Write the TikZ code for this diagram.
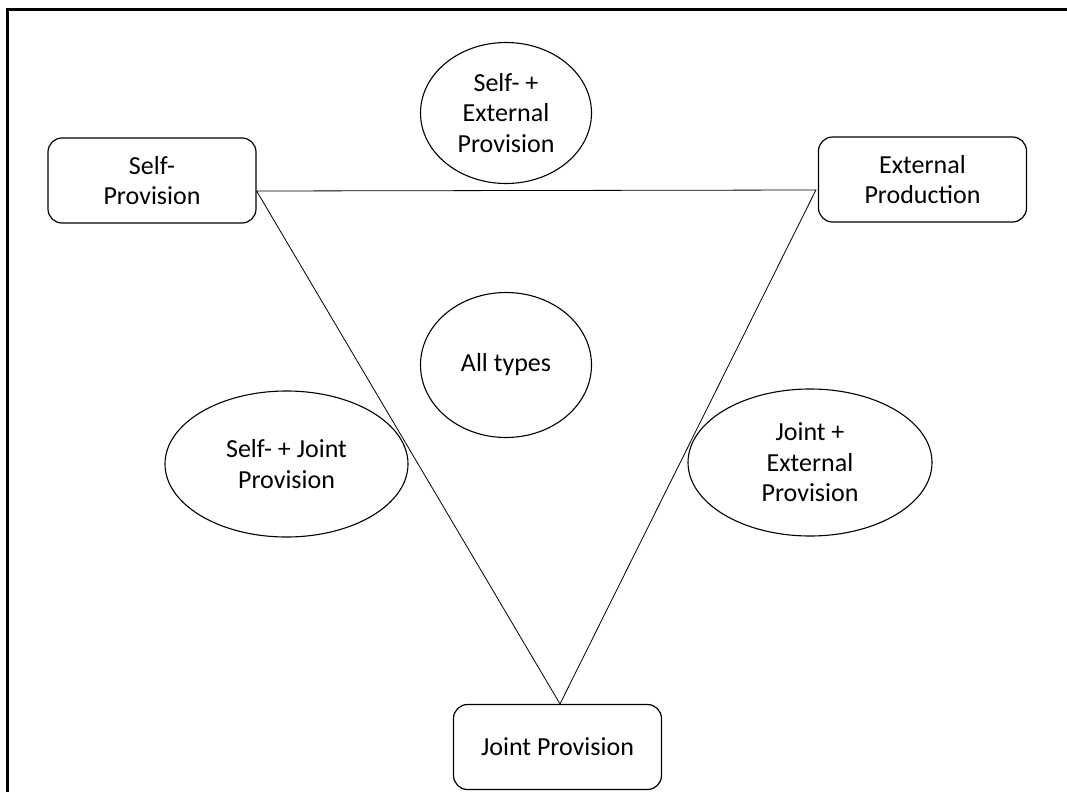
\documentclass[tikz,border=0pt]{standalone}
\usepackage{fontspec}
\setmainfont{Carlito}
\usetikzlibrary{shapes.geometric}
\begin{document}
\begin{tikzpicture}[x=1pt,y=-1pt,
  rbox/.style={draw,rounded corners=14pt,line width=1.2pt,minimum width=208pt,minimum height=85pt,align=center,inner sep=0pt},
  ell/.style={draw,ellipse,line width=1.1pt,inner sep=0pt,align=center},
  conn/.style={line width=0.8pt},
  every node/.style={font=\fontsize{26}{30.5}\selectfont}]
\useasboundingbox (0,0) rectangle (1067,792);
\fill[white] (0,0) rectangle (1067,792);
\draw[line width=2.6pt] (7.5,792) -- (7.5,9.5) -- (1067,9.5);
\node[rbox] (sp) at (152,180.5) {Self-\\Provision};
\node[rbox] (ep) at (922.5,179.5) {External\\Production};
\node[rbox] (jp) at (557.5,747) {Joint Provision};
\node[ell,minimum width=171pt,minimum height=141pt] (se) at (506,113) {Self- +\\External\\Provision};
\node[ell,minimum width=171pt,minimum height=145pt] (all) at (506,365) {All types};
\node[ell,minimum width=243pt,minimum height=146pt] (sj) at (286.5,464) {Self- + Joint\\Provision};
\node[ell,minimum width=244pt,minimum height=147pt] (je) at (810,462.5) {Joint +\\External\\Provision};
\coordinate (a) at ([yshift=-10.5pt]sp.east);
\coordinate (b) at ([yshift=-10.5pt,xshift=-2pt]ep.west);
\coordinate (c) at ([xshift=2.5pt]jp.north);
\draw[conn] (a) -- (b) -- (c) -- cycle;
\end{tikzpicture}
\end{document}
